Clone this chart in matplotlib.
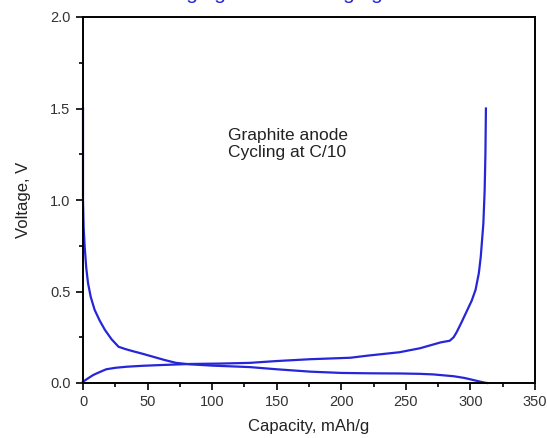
import matplotlib
matplotlib.use("Agg")
import matplotlib.pyplot as plt
from matplotlib.ticker import MultipleLocator

plt.rcParams['font.family'] = ['Liberation Sans', 'DejaVu Sans']

# discharge (lithiation) curve
dis_cap = [0, 0, 0.5, 1.3, 2.5, 3.9, 6, 9, 13, 17, 22, 27.5, 33, 38, 46, 54, 63, 72, 83, 100,
           129, 150, 176, 200, 222, 246, 261, 271, 287, 295, 300, 306, 311, 313]
dis_v = [1.5, 1.0, 0.85, 0.745, 0.63, 0.545, 0.47, 0.4, 0.34, 0.29, 0.24, 0.198, 0.185, 0.175,
         0.16, 0.144, 0.126, 0.11, 0.102, 0.095, 0.087, 0.075, 0.062, 0.055, 0.053, 0.052,
         0.05, 0.047, 0.037, 0.028, 0.02, 0.01, 0.002, 0.0]

# charge (delithiation) curve
chg_cap = [0, 4, 8, 13, 18, 25, 34, 46, 60, 83, 105, 129, 150, 176, 207, 221, 245, 261,
           271, 277, 284, 287, 289.5, 293, 297, 301, 304, 306.5, 308, 310, 311, 311.6, 312]
chg_v = [0.007, 0.026, 0.044, 0.06, 0.075, 0.083, 0.089, 0.094, 0.098, 0.104, 0.106, 0.11,
         0.12, 0.13, 0.138, 0.15, 0.168, 0.19, 0.21, 0.222, 0.231, 0.25, 0.28, 0.33, 0.39,
         0.45, 0.51, 0.6, 0.69, 0.87, 1.05, 1.25, 1.5]

fig = plt.figure(figsize=(5.47, 4.38), dpi=100)
ax = fig.add_axes([83 / 547, 55 / 438, 452 / 547, 366 / 438])

ax.plot(dis_cap, dis_v, color='#2626d8', lw=1.6, clip_on=False)
ax.plot(chg_cap, chg_v, color='#2626d8', lw=1.6, clip_on=False)

ax.set_xlim(0, 350)
ax.set_ylim(0, 2.0)
ax.xaxis.set_major_locator(MultipleLocator(50))
ax.xaxis.set_minor_locator(MultipleLocator(25))
ax.yaxis.set_major_locator(MultipleLocator(0.5))
ax.yaxis.set_minor_locator(MultipleLocator(0.25))
ax.tick_params(which='both', direction='out', labelsize=10.5, labelcolor='#333333', width=1.2)
ax.tick_params(which='major', length=5, pad=4)
ax.tick_params(which='minor', length=3)
for s in ax.spines.values():
    s.set_linewidth(1.4)

ax.set_xlabel('Capacity, mAh/g', fontsize=12, color='#222222', labelpad=7)
ax.set_ylabel('Voltage, V', fontsize=12, color='#222222', labelpad=14)

ax.text(112, 1.305, 'Graphite anode\nCycling at C/10', fontsize=12.5, color='#222222',
        va='center', ha='left', linespacing=1.15)

# title sits mostly above the top edge, as in the source image
fig.text(298 / 547, 1.0 + 1 / 438, 'Charging and Discharging Curves', color='#2626d8',
         fontsize=15, ha='center', va='baseline')

fig.savefig('out.png', dpi=100)
